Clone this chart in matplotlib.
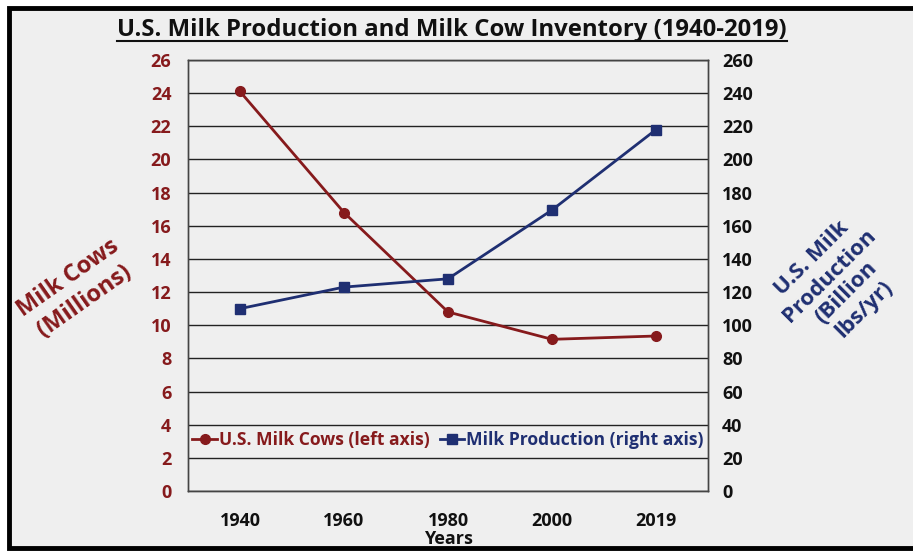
import matplotlib
matplotlib.use('Agg')
import matplotlib.pyplot as plt
from matplotlib.patches import Rectangle
from matplotlib.lines import Line2D

years = ['1940', '1960', '1980', '2000', '2019']
milk_cows = [24.1, 16.8, 10.8, 9.15, 9.35]          # millions (left axis)
milk_production = [110, 123, 128, 169.5, 218]       # billion lbs/yr (right axis)

red = '#861a1c'
blue = '#1f2f72'
plt.rcParams['font.family'] = ['Open Sans', 'DejaVu Sans']
plt.rcParams['font.weight'] = 'bold'
plt.rcParams['axes.labelweight'] = 'bold'

W, H = 913, 552
fig = plt.figure(figsize=(W / 100, H / 100), dpi=100, facecolor='white')

# grey panel with black frame
fig.add_artist(Rectangle((9 / W, 4 / H), 1.0, (H - 12) / H, transform=fig.transFigure,
                         facecolor='#efefef', edgecolor='black', linewidth=3.5, zorder=-10))

ax = fig.add_axes([188 / W, (H - 491) / H, 520 / W, 431 / H])
ax.set_facecolor('#efefef')
ax2 = ax.twinx()

x = list(range(len(years)))
ax.plot(x, milk_cows, color=red, lw=2, marker='o', ms=7, label='U.S. Milk Cows (left axis)', zorder=3)
ax2.plot(x, milk_production, color=blue, lw=2, marker='s', ms=6.5, label='Milk Production (right axis)', zorder=3)

ax.set_xlim(-0.5, 4.5)
ax.set_ylim(0, 26)
ax.set_yticks(range(0, 27, 2))
ax2.set_ylim(0, 260)
ax2.set_yticks(range(0, 261, 20))
ax.set_xticks(x)
ax.set_xticklabels(years)

ax.grid(axis='y', color='#222222', lw=1)
ax.tick_params(axis='y', colors=red, labelsize=13, length=0, pad=12)
ax.tick_params(axis='x', colors='#111111', labelsize=13, length=0, pad=15)
ax2.tick_params(axis='y', colors='#111111', labelsize=13, length=0, pad=10)
for a in (ax, ax2):
    for s in a.spines.values():
        s.set_color('#444444')
        s.set_linewidth(1)

ax.set_xlabel('Years', fontsize=13, color='#111111', labelpad=0)

h1, l1 = ax.get_legend_handles_labels()
h2, l2 = ax2.get_legend_handles_labels()
leg = ax2.legend(h1 + h2, l1 + l2, loc='center', bbox_to_anchor=(0.5, 0.118), ncol=2,
                 frameon=False, fontsize=12.6, handlelength=1.4, handletextpad=0.1,
                 columnspacing=0.6, borderaxespad=0)
for t, c in zip(leg.get_texts(), [red, blue]):
    t.set_color(c)

fig.text(76 / W, 1 - 290 / H, 'Milk Cows\n(Millions)', rotation=35, color=red,
         fontsize=17, ha='center', va='center', linespacing=1.25, rotation_mode='anchor')
fig.text(838 / W, 1 - 284 / H, 'U.S. Milk\nProduction\n(Billion\nlbs/yr)', rotation=45,
         color=blue, fontsize=16, ha='center', va='center', linespacing=1.2,
         rotation_mode='anchor')

title = fig.text(452 / W, 1 - 30 / H, 'U.S. Milk Production and Milk Cow Inventory (1940-2019)',
                 fontsize=17.2, color='#111111', ha='center', va='center')
fig.canvas.draw()
bb = title.get_window_extent().transformed(fig.transFigure.inverted())
fig.add_artist(Line2D([bb.x0, bb.x1], [bb.y0 + 0.002, bb.y0 + 0.002], color='#111111',
                      lw=1.5, transform=fig.transFigure))

fig.savefig('out.png', dpi=100, facecolor='white')
